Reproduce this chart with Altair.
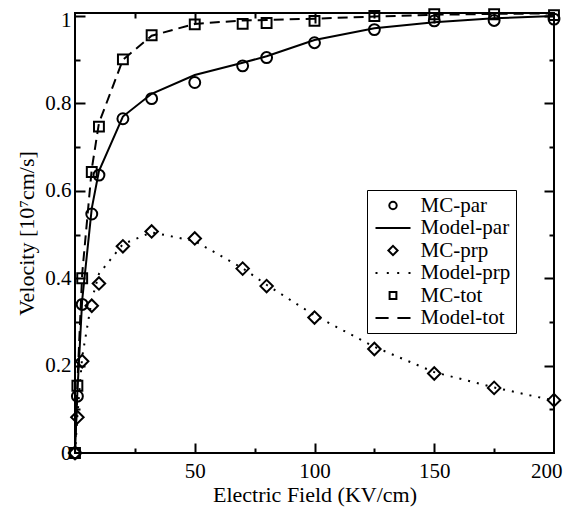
import altair as alt
import pandas as pd

# ---- data ----
fields = [0, 1, 3, 7, 10, 20, 32, 50, 70, 80, 100, 125, 150, 175, 200]
mc_par = [0, 0.13, 0.34, 0.547, 0.636, 0.765, 0.811, 0.848, 0.886, 0.905, 0.939, 0.969, 0.989, 0.990, 0.993]
mc_prp = [0, 0.082, 0.21, 0.337, 0.388, 0.473, 0.507, 0.491, 0.422, 0.382, 0.310, 0.238, 0.182, 0.149, 0.121]
mc_tot = [0, 0.154, 0.40, 0.643, 0.747, 0.901, 0.956, 0.981, 0.982, 0.984, 0.989, 1.000, 1.004, 1.004, 1.002]
model_par = [0, 0.14, 0.35, 0.56, 0.645, 0.77, 0.822, 0.865, 0.893, 0.908, 0.945, 0.972, 0.986, 0.995, 1.0]
model_prp = [0, 0.085, 0.22, 0.35, 0.41, 0.478, 0.505, 0.485, 0.423, 0.385, 0.315, 0.243, 0.185, 0.150, 0.120]
model_tot = [0, 0.16, 0.41, 0.65, 0.755, 0.90, 0.955, 0.982, 0.990, 0.991, 0.994, 0.999, 1.003, 1.005, 1.006]

series_names = ["MC-par", "Model-par", "MC-prp", "Model-prp", "MC-tot", "Model-tot"]
mc_names = ["MC-par", "MC-prp", "MC-tot"]
x_labels = [50, 100, 150, 200]
x_major = [50, 100, 150]
x_minor = [25, 75, 125, 175]
y_labels = [0, 0.2, 0.4, 0.6, 0.8, 1.0]
y_major = [0.2, 0.4, 0.6, 0.8, 1.0]
y_minor = [0.1, 0.3, 0.5, 0.7, 0.9]

rows = []
for name, vals in zip(series_names, [mc_par, model_par, mc_prp, model_prp, mc_tot, model_tot]):
    for f, v in zip(fields, vals):
        rows.append({"field": f, "value": v, "series": name})
df = pd.DataFrame(rows)

# chart point symbols (unit = sqrt(size)/2)
pt_circle = "M-0.21,0A0.21,0.21 0 1,0 0.21,0A0.21,0.21 0 1,0 -0.21,0Z"
pt_diamond = "M-0.24,0L0,-0.24L0.24,0L0,0.24Z"
pt_square = "M-0.19,-0.19H0.19V0.19H-0.19Z"
point_range = [pt_circle, pt_diamond, pt_square]

# legend symbols (unit = 2 px with symbolSize 16)
lg_circle = "M-1.85,0A1.85,1.85 0 1,0 1.85,0A1.85,1.85 0 1,0 -1.85,0Z"
lg_line = "M-8.75,0H8.75"
lg_diamond = "M-2.3,0L0,-2.3L2.3,0L0,2.3Z"
lg_dots = "M-8.75,0H-7.75M-3.1,0H-2.1M2.1,0H3.1M7.75,0H8.75"
lg_square = "M-1.7,-1.7H1.7V1.7H-1.7Z"
lg_dash = "M-8.75,0H-2.2M2.2,0H8.75"
legend_range = [lg_circle, lg_line, lg_diamond, lg_dots, lg_square, lg_dash]

FONT = "Liberation Serif, Times New Roman, Tinos, DejaVu Serif, serif"
xscale = alt.Scale(domain=[0, 200], nice=False, zero=False)
yscale = alt.Scale(domain=[0, 1.007], nice=False, zero=False)

base = alt.Chart(df)

# main layer: MC points with the labelled axes
points = base.mark_point(filled=False, color="black", strokeWidth=2, size=2704, opacity=1).encode(
    x=alt.X("field:Q", scale=xscale,
            axis=alt.Axis(values=x_labels, title="Electric Field (KV/cm)", tickSize=0, domain=False,
                          grid=False, labelPadding=7, labelFont=FONT, labelFontSize=21,
                          labelColor="black", titleFont=FONT, titleFontSize=22,
                          titleFontWeight="normal", titleColor="black", titlePadding=3,
                          labelFlush=True, labelFlushOffset=8)),
    y=alt.Y("value:Q", scale=yscale,
            axis=alt.Axis(values=y_labels, format="~g", title="Velocity [10⁷cm/s]", tickSize=0,
                          domain=False, grid=False, labelPadding=4, labelFont=FONT, labelFontSize=21,
                          labelColor="black", titleFont=FONT, titleFontSize=22,
                          titleFontWeight="normal", titleColor="black", titlePadding=6,
                          labelFlush=False,
                          labelOffset={"condition": {"test": "datum.value >= 1", "value": 4},
                                       "value": 0})),
    shape=alt.Shape("series:N", scale=alt.Scale(domain=mc_names, range=point_range), legend=None),
).transform_filter(alt.FieldOneOfPredicate(field="series", oneOf=mc_names))

# invisible layer that carries the legend
legend_layer = base.mark_point(filled=False, color="black", strokeWidth=2, opacity=0).encode(
    x=alt.X("field:Q", scale=xscale, axis=None),
    y=alt.Y("value:Q", scale=yscale, axis=None),
    shape=alt.Shape("series:N", scale=alt.Scale(domain=series_names, range=legend_range),
                    legend=alt.Legend(title=None, orient="none", legendX=292, legendY=177,
                                      strokeColor="black", padding=5, symbolSize=16,
                                      symbolOffset=10.5, symbolOpacity=1,
                                      symbolStrokeWidth=2, symbolStrokeColor="black",
                                      symbolFillColor="transparent", labelFont=FONT,
                                      labelFontSize=21, labelColor="black", labelOffset=17,
                                      rowPadding=0.5, labelLimit=300)),
)


def model_line(name, dash):
    kw = {"color": "black", "strokeWidth": 2}
    if dash:
        kw["strokeDash"] = dash
    return base.mark_line(**kw).encode(
        x=alt.X("field:Q", scale=xscale, axis=None),
        y=alt.Y("value:Q", scale=yscale, axis=None),
    ).transform_filter(alt.datum.series == name)


line_par = model_line("Model-par", None)
line_prp = model_line("Model-prp", [2, 7])
line_tot = model_line("Model-tot", [10, 6])


def tick_layer(xorient, yorient, xvals, yvals, length):
    return base.mark_point(opacity=0).encode(
        x=alt.X("field:Q", scale=xscale, title=None,
                axis=alt.Axis(orient=xorient, offset=-length, tickSize=length, values=xvals,
                              labels=False, domain=False, grid=False, tickColor="black",
                              tickWidth=2)),
        y=alt.Y("value:Q", scale=yscale, title=None,
                axis=alt.Axis(orient=yorient, offset=-length, tickSize=length, values=yvals,
                              labels=False, domain=False, grid=False, tickColor="black",
                              tickWidth=2)),
    )


t1 = tick_layer("bottom", "left", x_major, y_major, 10)
t2 = tick_layer("top", "right", x_major, y_major, 10)
t3 = tick_layer("bottom", "left", x_minor, y_minor, 5)
t4 = tick_layer("top", "right", x_minor, y_minor, 5)

chart = alt.layer(line_par, line_prp, line_tot, points, legend_layer, t1, t2, t3, t4).resolve_axis(
    x="independent", y="independent"
).resolve_scale(shape="independent").properties(
    width=479, height=440,
    autosize=alt.AutoSizeParams(type="none"),
    padding={"left": 67, "top": 5, "right": 9, "bottom": 54},
    background="white",
).configure_view(stroke="black", strokeWidth=2).configure_axis(
    titleColor="black", labelColor="black"
)

chart.save("out.html", embed_options={"renderer": "svg", "actions": False})
